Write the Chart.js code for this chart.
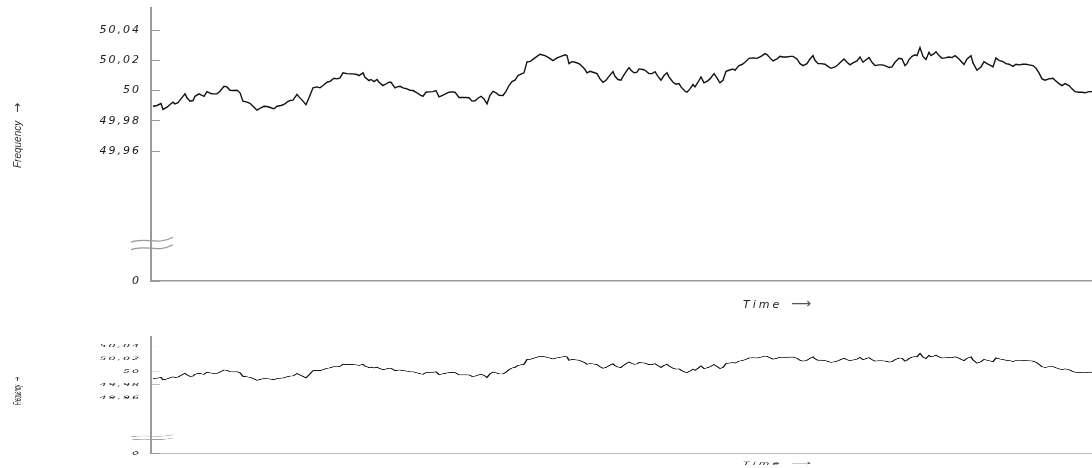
<!DOCTYPE html>
<html>
<head>
<meta charset="utf-8">
<script src="https://cdn.jsdelivr.net/npm/chart.js@4/dist/chart.umd.min.js"></script>
<style>
  html, body { margin: 0; padding: 0; background: #fff; }
  #wrap { position: relative; width: 1092px; height: 468px; overflow: hidden; }
  canvas { position: absolute; left: 0; }
  #top { top: 0; }
  #bottom { top: 333px; transform: scaleY(0.4286); transform-origin: 0 0; }
</style>
</head>
<body>
<div id="wrap">
  <canvas id="top" width="1092" height="320"></canvas>
  <canvas id="bottom" width="1092" height="320"></canvas>
</div>
<script>
// time (s) and grid frequency (Hz)
var time = [2, 6, 10, 12, 16, 19, 22, 24, 27, 30, 34, 36, 39, 42, 44, 48, 50, 53, 56, 60,
  62, 66, 69, 73, 76, 79, 82, 86, 89, 92, 96, 99, 102, 106, 110, 113, 116, 120, 123, 126,
  130, 133, 136, 139, 142, 146, 148, 152, 155, 158, 162, 166, 169, 172, 176, 179, 183, 186, 189, 192,
  196, 199, 202, 206, 208, 212, 214, 218, 220, 223, 226, 228, 232, 234, 238, 240, 244, 246, 249, 252,
  256, 259, 262, 266, 269, 272, 275, 278, 282, 285, 288, 291, 294, 298, 301, 304, 308, 311, 314, 318,
  321, 324, 327, 330, 333, 336, 339, 342, 345, 348, 352, 355, 358, 361, 364, 367, 370, 373, 376, 379,
  384, 389, 394, 398, 402, 406, 410, 414, 416, 418, 421, 424, 428, 431, 434, 436, 439, 442, 446, 449,
  452, 455, 458, 462, 464, 467, 470, 472, 476, 478, 480, 483, 486, 488, 492, 494, 498, 501, 504, 507,
  510, 513, 516, 518, 522, 525, 528, 530, 534, 536, 539, 542, 544, 547, 550, 553, 556, 559, 563, 566,
  568, 569, 572, 575, 578, 582, 584, 588, 591, 594, 598, 602, 606, 610, 614, 616, 619, 622, 626, 629,
  632, 636, 639, 642, 646, 649, 652, 656, 659, 662, 664, 667, 670, 674, 677, 680, 684, 687, 690, 693,
  696, 699, 702, 706, 709, 712, 716, 718, 721, 724, 728, 731, 734, 738, 741, 744, 748, 751, 754, 756,
  758, 761, 764, 766, 769, 772, 775, 778, 780, 783, 785, 788, 791, 794, 798, 801, 804, 808, 813, 816,
  820, 822, 826, 830, 833, 836, 840, 842, 845, 848, 852, 855, 858, 862, 865, 868, 872, 875, 878, 882,
  885, 888, 891, 894, 898, 902, 904, 908, 911, 914, 918, 921, 924, 928, 931, 934, 938, 941];

var freq = [49.9896, 49.9901, 49.9914, 49.9875, 49.9890, 49.9908, 49.9923, 49.9912, 49.9919, 49.9945,
  49.9978, 49.9952, 49.9930, 49.9934, 49.9962, 49.9978, 49.9971, 49.9962, 49.9993, 49.9980,
  49.9978, 49.9978, 49.9995, 50.0028, 50.0024, 50.0002, 50.0000, 50.0002, 49.9985, 49.9930,
  49.9923, 49.9916, 49.9896, 49.9870, 49.9886, 49.9896, 49.9894, 49.9886, 49.9879, 49.9896,
  49.9901, 49.9908, 49.9923, 49.9934, 49.9936, 49.9974, 49.9958, 49.9930, 49.9906, 49.9952,
  50.0018, 50.0024, 50.0018, 50.0033, 50.0055, 50.0061, 50.0081, 50.0077, 50.0084, 50.0117,
  50.0112, 50.0110, 50.0110, 50.0106, 50.0099, 50.0117, 50.0088, 50.0066, 50.0073, 50.0059,
  50.0073, 50.0055, 50.0033, 50.0040, 50.0055, 50.0055, 50.0018, 50.0024, 50.0028, 50.0018,
  50.0011, 50.0002, 50.0000, 49.9985, 49.9971, 49.9962, 49.9989, 49.9991, 49.9993, 50.0000,
  49.9958, 49.9967, 49.9976, 49.9989, 49.9991, 49.9989, 49.9954, 49.9954, 49.9954, 49.9952,
  49.9930, 49.9932, 49.9949, 49.9962, 49.9945, 49.9912, 49.9969, 49.9995, 49.9985, 49.9969,
  49.9967, 49.9995, 50.0033, 50.0059, 50.0068, 50.0099, 50.0108, 50.0117, 50.0190, 50.0192,
  50.0216, 50.0240, 50.0231, 50.0216, 50.0198, 50.0216, 50.0226, 50.0236, 50.0231, 50.0178,
  50.0191, 50.0187, 50.0178, 50.0160, 50.0139, 50.0117, 50.0127, 50.0121, 50.0112, 50.0077,
  50.0055, 50.0068, 50.0094, 50.0125, 50.0094, 50.0073, 50.0068, 50.0094, 50.0134, 50.0152,
  50.0134, 50.0117, 50.0121, 50.0143, 50.0139, 50.0134, 50.0112, 50.0112, 50.0125, 50.0094,
  50.0068, 50.0099, 50.0117, 50.0090, 50.0055, 50.0042, 50.0046, 50.0024, 49.9995, 49.9989,
  50.0011, 50.0040, 50.0024, 50.0055, 50.0090, 50.0051, 50.0061, 50.0077, 50.0112, 50.0084,
  50.0061, 50.0051, 50.0068, 50.0127, 50.0134, 50.0143, 50.0134, 50.0165, 50.0172, 50.0187,
  50.0213, 50.0216, 50.0213, 50.0226, 50.0244, 50.0238, 50.0216, 50.0196, 50.0209, 50.0226,
  50.0222, 50.0222, 50.0226, 50.0226, 50.0209, 50.0178, 50.0165, 50.0178, 50.0209, 50.0231,
  50.0200, 50.0178, 50.0178, 50.0174, 50.0160, 50.0147, 50.0156, 50.0170, 50.0191, 50.0209,
  50.0187, 50.0170, 50.0183, 50.0196, 50.0222, 50.0187, 50.0209, 50.0218, 50.0187, 50.0165,
  50.0170, 50.0170, 50.0165, 50.0152, 50.0156, 50.0187, 50.0213, 50.0209, 50.0165, 50.0178,
  50.0205, 50.0226, 50.0236, 50.0231, 50.0284, 50.0226, 50.0205, 50.0253, 50.0231, 50.0244,
  50.0257, 50.0231, 50.0213, 50.0216, 50.0222, 50.0218, 50.0231, 50.0209, 50.0172, 50.0209,
  50.0231, 50.0183, 50.0134, 50.0156, 50.0191, 50.0178, 50.0165, 50.0156, 50.0216, 50.0200,
  50.0191, 50.0178, 50.0174, 50.0160, 50.0174, 50.0170, 50.0174, 50.0174, 50.0170, 50.0165,
  50.0147, 50.0117, 50.0077, 50.0068, 50.0077, 50.0081, 50.0068, 50.0046, 50.0033, 50.0046,
  50.0033, 50.0011, 49.9993, 49.9989, 49.9989, 49.9985, 49.9993, 49.9993];

// y ticks; the axis is broken, its bottom end stands for 0
var tickValues = [49.874, 49.96, 49.98, 50, 50.02, 50.04];
var tickLabels = ['0', '49,96', '49,98', '50', '50,02', '50,04'];

var axisBottom = 49.874, axisTop = 50.0546;
var breakAt = [49.901, 49.896];

var extras = {
  id: 'extras',
  beforeDraw: function (chart) {
    chart.ctx.letterSpacing = '2px';
  },
  afterDraw: function (chart) {
    var ctx = chart.ctx, ys = chart.scales.y, ax = ys.right;
    ctx.save();
    ctx.letterSpacing = '0px';
    // axis break marks
    ctx.strokeStyle = '#9a9a9a';
    ctx.lineWidth = 1.2;
    breakAt.forEach(function (v) {
      var py = ys.getPixelForValue(v);
      ctx.beginPath();
      ctx.moveTo(ax - 20, py + 2);
      ctx.bezierCurveTo(ax - 6, py - 4, ax + 6, py + 6, ax + 22, py - 3);
      ctx.stroke();
    });
    // y title
    ctx.fillStyle = '#333';
    ctx.font = 'italic 10px "Liberation Sans"';
    ctx.save();
    ctx.translate(21, 168);
    ctx.rotate(-Math.PI / 2);
    ctx.textAlign = 'left';
    ctx.fillText('Frequency', 0, 0);
    ctx.font = '12px "DejaVu Sans"';
    ctx.fillText('\u2192', 55, 0);
    ctx.restore();
    // x title
    ctx.fillStyle = '#222';
    ctx.letterSpacing = '3px';
    ctx.font = 'italic 11px "DejaVu Sans"';
    ctx.textAlign = 'left';
    ctx.fillText('Time', 743, 308);
    ctx.letterSpacing = '0px';
    ctx.fillStyle = '#555';
    ctx.font = '14px "DejaVu Sans"';
    ctx.fillText('\u27F6', 791, 308);
    ctx.restore();
  }
};

function makeChart(id, lineWidth) {
  var ctx = document.getElementById(id).getContext('2d');
  return new Chart(ctx, {
    type: 'line',
    data: {
      datasets: [{
        data: time.map(function (t, i) { return { x: t, y: freq[i] }; }),
        borderColor: '#111',
        borderWidth: lineWidth,
        pointRadius: 0,
        tension: 0,
        fill: false
      }]
    },
    options: {
      responsive: false,
      animation: false,
      events: [],
      layout: { padding: { left: 0, right: 0, top: 8, bottom: 39 } },
      plugins: { legend: { display: false }, tooltip: { enabled: false } },
      scales: {
        x: {
          type: 'linear',
          min: 0,
          max: 941,
          grid: { display: false, drawTicks: false },
          border: { display: true, color: '#9a9a9a', width: 1.5 },
          ticks: { display: false },
          afterFit: function (s) { s.height = 0; }
        },
        y: {
          type: 'linear',
          min: axisBottom,
          max: axisTop,
          grid: { drawOnChartArea: false, drawTicks: true, tickLength: -9, color: '#9a9a9a', lineWidth: 1 },
          border: { display: true, color: '#9a9a9a', width: 2 },
          afterBuildTicks: function (s) {
            s.ticks = tickValues.map(function (v) { return { value: v }; });
          },
          ticks: {
            padding: 19,
            color: '#1a1a1a',
            font: { family: 'DejaVu Sans', style: 'italic', size: 11 },
            callback: function (v, i) { return tickLabels[i]; }
          },
          afterFit: function (s) {
            s.width = 151;
            s.paddingTop = 0;
            s.paddingBottom = 0;
          }
        }
      }
    },
    plugins: [extras]
  });
}

makeChart('top', 1.4);
makeChart('bottom', 1.6);
</script>
</body>
</html>
